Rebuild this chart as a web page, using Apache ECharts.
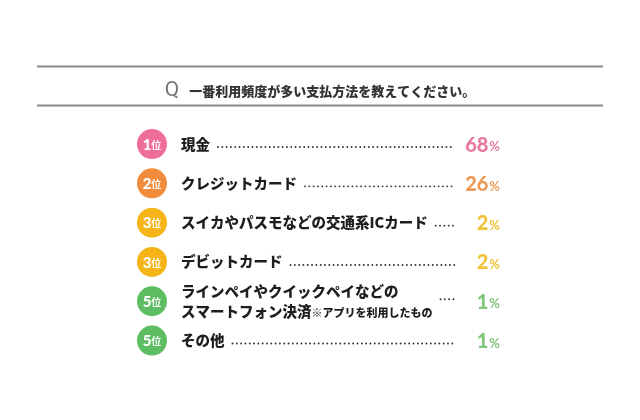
<!DOCTYPE html>
<html>
<head>
<meta charset="utf-8">
<script src="https://cdn.jsdelivr.net/npm/echarts@6/dist/echarts.min.js"></script>
<style>
  html, body { margin: 0; padding: 0; background: #fff; }
  #container { width: 640px; height: 420px; }
</style>
</head>
<body>
<div id="container"></div>
<script>
'use strict';
// question + ranking data
var question = '一番利用頻度が多い支払方法を教えてください。';
var categories = ['現金', 'クレジットカード', 'スイカやパスモなどの交通系ICカード', 'デビットカード',
    'ラインペイやクイックペイなどの\nスマートフォン決済', 'その他'];
var notes = ['', '', '', '', '※アプリを利用したもの', ''];
var ranks = [1, 2, 3, 3, 5, 5];
var values = [68, 26, 2, 2, 1, 1];
var rankColors = ['#ee6d9a', '#f08c3b', '#f5b418', '#f5b418', '#5cbd63', '#5cbd63'];
var valueColors = ['#e97aa0', '#eb9b57', '#f0c238', '#f0c238', '#82c67e', '#82c67e'];

var JP = '"Noto Sans CJK JP", sans-serif';
var nameFont = '900 14.5px ' + JP;
var noteFont = '900 11px ' + JP;

var measure = document.createElement('canvas').getContext('2d');
function textWidth(str, font) {
    measure.font = font;
    return measure.measureText(str).width;
}

var dom = document.getElementById('container');
var myChart = echarts.init(dom);

function renderItem(params, api) {
    var i = params.dataIndex;
    var cs = params.coordSys;
    var cy = api.coord([0, api.value(1)])[1];
    var left = cs.x;
    var right = cs.x + cs.width;
    var nameX = left + 44;
    var lines = categories[i].split('\n');
    var children = [];

    // rank badge
    children.push({
        type: 'circle',
        shape: { cx: left + 15, cy: cy, r: 15 },
        style: { fill: rankColors[i] }
    });
    children.push({
        type: 'text',
        style: {
            text: '{n|' + ranks[i] + '}{u|位}',
            x: left + 15, y: cy + 1,
            align: 'center', verticalAlign: 'middle',
            fill: '#fff',
            rich: {
                n: { fontSize: 15, fontWeight: 900, fontFamily: 'Lato, sans-serif', fill: '#fff' },
                u: { fontSize: 10, fontWeight: 'bold', fontFamily: JP, fill: '#fff' }
            }
        }
    });

    // name (possibly multi-line, note appended to last line)
    var maxW = 0;
    lines.forEach(function (line, j) {
        var y = cy + (j - (lines.length - 1) / 2) * 20;
        var isLast = j === lines.length - 1;
        var note = isLast ? notes[i] : '';
        var w = textWidth(line, nameFont) + (note ? textWidth(note, noteFont) : 0);
        maxW = Math.max(maxW, w);
        children.push({
            type: 'text',
            style: {
                text: '{a|' + line + '}' + (note ? '{b|' + note + '}' : ''),
                x: nameX, y: y,
                align: 'left', verticalAlign: 'middle',
                fill: '#1e1e1e',
                rich: {
                    a: { fontSize: 14.5, fontWeight: 900, fontFamily: JP, fill: '#1e1e1e' },
                    b: { fontSize: 11, fontWeight: 900, fontFamily: JP, fill: '#1e1e1e', padding: [4, 0, 0, 0] }
                }
            }
        });
    });

    // dotted leader
    var dotY = lines.length > 1 ? cy - 2 : cy + 3;
    var x1 = nameX + maxW + 8;
    var x2 = right - 45;
    if (x2 > x1) {
        children.push({
            type: 'line',
            shape: { x1: x1, y1: dotY, x2: x2, y2: dotY },
            style: { stroke: '#333', lineWidth: 1.9, lineCap: 'round', lineDash: [0.01, 4.3] }
        });
    }

    // value
    children.push({
        type: 'text',
        style: {
            text: '{v|' + api.value(0) + '}{p|%}',
            x: right, y: cy + 1,
            align: 'right', verticalAlign: 'middle',
            fill: valueColors[i],
            rich: {
                v: { fontSize: 20, fontWeight: 900, fontFamily: 'Lato, sans-serif', fill: valueColors[i] },
                p: { fontSize: 13, fontWeight: 'bold', fontFamily: 'Lato, sans-serif', fill: valueColors[i], padding: [4, 0, 0, 1] }
            }
        }
    });

    return { type: 'group', children: children };
}

var option = {
    backgroundColor: '#fff',
    animation: false,
    title: {
        text: '{q|Q}  {t|' + question + '}',
        left: 'center',
        top: 75,
        textStyle: {
            rich: {
                q: { fontSize: 21, fontWeight: 'normal', fontFamily: 'Roboto, sans-serif', color: '#777' },
                t: { fontSize: 13, fontWeight: 900, fontFamily: JP, color: '#333', padding: [2, 0, 0, 0] }
            }
        }
    },
    graphic: [
        { type: 'line', shape: { x1: 37, y1: 66.5, x2: 603, y2: 66.5 }, style: { stroke: '#8a8a8a', lineWidth: 2 } },
        { type: 'line', shape: { x1: 37, y1: 105.5, x2: 603, y2: 105.5 }, style: { stroke: '#8a8a8a', lineWidth: 2 } }
    ],
    grid: { left: 137, right: 140, top: 124.4, bottom: 59.8 },
    xAxis: { type: 'value', min: 0, max: 100, show: false },
    yAxis: { type: 'category', data: categories, inverse: true, show: false },
    series: [{
        type: 'custom',
        renderItem: renderItem,
        encode: { x: 0, y: 1 },
        data: values.map(function (v, i) { return [v, i]; })
    }]
};
myChart.setOption(option);
</script>
</body>
</html>
